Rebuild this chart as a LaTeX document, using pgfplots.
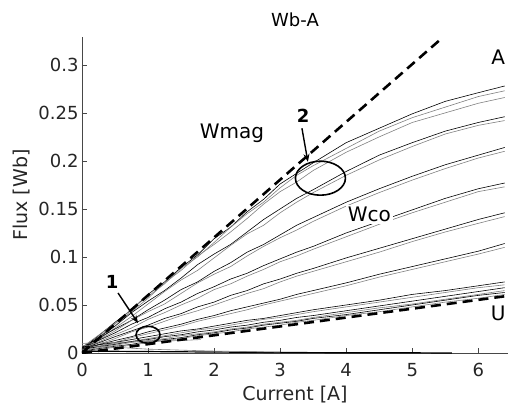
\documentclass[border=0pt]{standalone}
\usepackage{fontspec}
\setmainfont{DejaVu Sans}
\usepackage{pgfplots}
\pgfplotsset{compat=1.18}
\usepackage{pgfplotstable}
\usetikzlibrary{arrows.meta}
\definecolor{axgray}{RGB}{38,38,38}
\definecolor{lgray}{RGB}{128,128,128}

% flux curves
\pgfplotstableread{
x    t1    t2    t3    t4    t5    m1a   m1b   m2a   m2b   m3a   m3b   m4a   m4b   m5a   m5b   m6a   m6b   m7a   m7b
0    0.004 0.003 0.006 0.004 0.002 0.006 0.004 0.005 0.004 0.004 0.003 0.004 0.003 0.006 0.004 0.004 0.003 0.002 0.001
0.5  0.032 0.030 0.031 0.028 0.026 0.025 0.023 0.021 0.019 0.017 0.015 0.013 0.011 0.011 0.010 0.009 0.008 0.007 0.006
0.75 0.045 0.046 0.043 0.042 0.038 0.034 0.034 0.030 0.026 0.023 0.022 0.017 0.016 0.014 0.012 0.012 0.011 0.009 0.008
1    0.061 0.059 0.057 0.054 0.051 0.045 0.043 0.037 0.035 0.029 0.027 0.022 0.020 0.017 0.015 0.014 0.013 0.012 0.011
1.25 0.074 0.072 0.073 0.065 0.064 0.055 0.051 0.046 0.042 0.036 0.033 0.026 0.024 0.020 0.018 0.017 0.015 0.014 0.013
1.5  0.089 0.088 0.086 0.078 0.076 0.066 0.062 0.053 0.050 0.041 0.039 0.030 0.028 0.023 0.021 0.019 0.018 0.016 0.015
1.75 0.102 0.100 0.101 0.092 0.086 0.074 0.073 0.062 0.057 0.048 0.044 0.035 0.033 0.025 0.024 0.022 0.020 0.019 0.018
2    0.119 0.115 0.113 0.103 0.099 0.085 0.082 0.069 0.066 0.053 0.050 0.039 0.037 0.028 0.026 0.024 0.022 0.021 0.020
2.25 0.131 0.131 0.126 0.113 0.112 0.094 0.090 0.077 0.072 0.060 0.056 0.044 0.041 0.031 0.029 0.027 0.025 0.024 0.022
2.5  0.147 0.145 0.140 0.126 0.124 0.105 0.101 0.083 0.080 0.065 0.062 0.048 0.045 0.034 0.032 0.029 0.027 0.026 0.025
2.75 0.160 0.157 0.155 0.139 0.133 0.113 0.111 0.091 0.087 0.072 0.067 0.052 0.050 0.036 0.035 0.032 0.030 0.029 0.027
3    0.176 0.172 0.168 0.150 0.146 0.123 0.120 0.098 0.095 0.077 0.074 0.056 0.054 0.039 0.037 0.034 0.032 0.031 0.029
3.25 0.187 0.185 0.178 0.161 0.157 0.133 0.128 0.105 0.101 0.083 0.080 0.061 0.058 0.042 0.040 0.037 0.034 0.033 0.032
3.5  0.198 0.195 0.190 0.170 0.167 0.141 0.137 0.111 0.108 0.088 0.085 0.065 0.062 0.045 0.043 0.039 0.037 0.036 0.034
4    0.219 0.213 0.209 0.189 0.185 0.157 0.153 0.125 0.121 0.099 0.095 0.073 0.070 0.050 0.048 0.044 0.042 0.040 0.039
4.5  0.234 0.231 0.225 0.206 0.201 0.171 0.167 0.137 0.134 0.109 0.105 0.082 0.079 0.055 0.053 0.049 0.047 0.045 0.043
5    0.249 0.245 0.240 0.219 0.215 0.184 0.180 0.149 0.146 0.119 0.116 0.090 0.087 0.061 0.058 0.054 0.051 0.050 0.048
5.5  0.262 0.256 0.250 0.231 0.228 0.196 0.192 0.161 0.157 0.129 0.126 0.098 0.095 0.065 0.063 0.059 0.056 0.055 0.053
6    0.271 0.267 0.260 0.240 0.237 0.206 0.203 0.171 0.168 0.139 0.135 0.106 0.103 0.070 0.068 0.064 0.061 0.060 0.057
6.4  0.278 0.273 0.266 0.246 0.242 0.214 0.210 0.177 0.173 0.146 0.142 0.114 0.110 0.074 0.071 0.068 0.065 0.063 0.061
}\curves

\begin{document}
\begin{tikzpicture}
\begin{axis}[
    scale only axis,
    width=426bp, height=316bp,
    xmin=0, xmax=6.45, ymin=0, ymax=0.329,
    axis x line=bottom, axis y line=left,
    axis line style={-, draw=axgray!85, line width=0.5bp},
    tick align=inside, major tick length=5bp,
    tick style={draw=axgray!85, line width=0.5bp},
    xtick={0,1,2,3,4,5,6}, xticklabels={0,1,2,3,4,5,6},
    ytick={0,0.05,0.1,0.15,0.2,0.25,0.3},
    yticklabels={0,0.05,0.1,0.15,0.2,0.25,0.3},
    ticklabel style={font=\fontsize{18bp}{21bp}\selectfont, text=axgray},
    xticklabel style={yshift=-7bp},
    xlabel={Current [A]}, ylabel={Flux [Wb]},
    label style={font=\fontsize{19bp}{22bp}\selectfont, text=axgray},
    xlabel style={at={(axis description cs:0.5,-0.131)}, anchor=center},
    ylabel style={at={(axis description cs:-0.143,0.5)}, anchor=center},
    title={Wb-A},
    title style={at={(axis description cs:0.5,1.037)}, anchor=center,
        font=\fontsize{18bp}{21bp}\selectfont},
    clip mode=individual,
    every axis plot/.append style={line width=0.6bp},
]
\addplot[black] table[x=x,y=t1]{\curves};
\addplot[lgray] table[x=x,y=t2]{\curves};
\addplot[lgray] table[x=x,y=t3]{\curves};
\addplot[black] table[x=x,y=t4]{\curves};
\addplot[lgray] table[x=x,y=t5]{\curves};
\addplot[black] table[x=x,y=m1a]{\curves};
\addplot[lgray] table[x=x,y=m1b]{\curves};
\addplot[black] table[x=x,y=m2a]{\curves};
\addplot[lgray] table[x=x,y=m2b]{\curves};
\addplot[black] table[x=x,y=m3a]{\curves};
\addplot[lgray] table[x=x,y=m3b]{\curves};
\addplot[black] table[x=x,y=m4a]{\curves};
\addplot[lgray] table[x=x,y=m4b]{\curves};
\addplot[black] table[x=x,y=m5a]{\curves};
\addplot[lgray] table[x=x,y=m5b]{\curves};
\addplot[black] table[x=x,y=m6a]{\curves};
\addplot[lgray] table[x=x,y=m6b]{\curves};
\addplot[black] table[x=x,y=m7a]{\curves};
\addplot[lgray] table[x=x,y=m7b]{\curves};
% curves lying near zero
\addplot[black, line width=1.2bp] coordinates {(0,0.002) (1,0.0015) (2,0.001) (3,0.0005) (4,0.0003) (5,0.0002) (5.6,0)};
\addplot[lgray] coordinates {(0,0.008) (0.5,0.006) (1,0.004) (1.5,0.003) (2,0.002) (3,0.001)};
\addplot[lgray] coordinates {(0,0.010) (0.5,0.011) (1,0.012) (1.5,0.013) (1.8,0.014)};
% bounding lines
\addplot[black, line width=2.6bp, dash pattern=on 10bp off 6bp] coordinates {(0,0) (5.47,0.329)};
\addplot[black, line width=2.6bp, dash pattern=on 10bp off 6bp] coordinates {(0,0) (6.45,0.0595)};

\draw[line width=1.6bp] (axis cs:1.0,0.019) ellipse [x radius=12bp, y radius=8.5bp];
\draw[line width=1.6bp] (axis cs:3.61,0.182) ellipse [x radius=25bp, y radius=17bp];
\draw[-{Stealth[length=8bp,width=6bp]}, line width=1.4bp] (axis cs:0.545,0.0625) -- (axis cs:0.85,0.031);
\draw[-{Stealth[length=8bp,width=6bp]}, line width=1.4bp] (axis cs:3.33,0.234) -- (axis cs:3.42,0.199);
\node[font=\fontsize{18bp}{21bp}\selectfont\bfseries] at (axis cs:0.455,0.074) {1};
\node[font=\fontsize{18bp}{21bp}\selectfont\bfseries] at (axis cs:3.35,0.247) {2};
\node[font=\fontsize{20bp}{23bp}\selectfont] at (axis cs:2.27,0.229) {Wmag};
\node[font=\fontsize{20bp}{23bp}\selectfont, fill=white, inner sep=2bp] at (axis cs:4.35,0.144) {Wco};
\node[font=\fontsize{20bp}{23bp}\selectfont] at (axis cs:6.30,0.308) {A};
\node[font=\fontsize{20bp}{23bp}\selectfont, fill=white, inner sep=1bp] at (axis cs:6.30,0.0417) {U};
\coordinate (sw) at (rel axis cs:0,0);
\coordinate (ne) at (rel axis cs:1,1);
\end{axis}
\pgfresetboundingbox
\path ([shift={(-82bp,-53bp)}]sw) rectangle ([shift={(0bp,37bp)}]ne);
\end{tikzpicture}
\end{document}
